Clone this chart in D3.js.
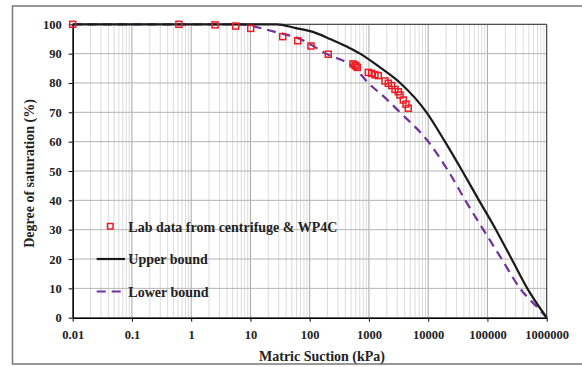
<!DOCTYPE html>
<html><head><meta charset="utf-8">
<script src="https://cdn.jsdelivr.net/npm/d3@7"></script>
<style>body{margin:0;background:#fff}svg{display:block}text{font-family:"Liberation Serif","Times New Roman",serif;font-weight:bold;fill:#222}</style>
</head><body>
<script>
// Lab data (suction kPa, degree of saturation %)
const labSuction = [0.01,0.62,2.52,5.64,10.1,35,62.7,105,206,538,582,604,636,975,1112,1264,1438,1866,2122,2422,2754,3128,3342,3800,4217,4613];
const labSat     = [100,100,99.8,99.4,98.6,95.8,94.4,92.6,89.8,86.5,86.1,85.8,85.3,83.6,83.3,82.8,82.5,80.7,79.9,79.1,77.8,77.0,75.9,74.2,72.8,71.4];
// Upper bound curve
const upperSuction = [0.01,28,56,110,221,420,710,1535,3370,9370,19200,37600,72000,139000,256000,470000,1000000];
const upperSat     = [100,100,98.8,97.5,95,92.4,90,85.3,80,70,60,50,40,30,20,10,0];
// Lower bound curve
const lowerSuction = [0.01,7,13,25,69,188,582,975,1866,3340,10040,21800,42300,85100,174000,354000,770000,1000000];
const lowerSat     = [100,100,99,97.5,95,90,85,80,75,70,60,50,40,30,20,10,2.6,0];
// Axes ticks
const xTicks = [0.01,0.1,1,10,100,1000,10000,100000,1000000];
const xTickLabels = ["0.01","0.1","1","10","100","1000","10000","100000","1000000"];
const yTicks = [0,10,20,30,40,50,60,70,80,90,100];
const legendLabels = ["Lab data from centrifuge & WP4C","Upper bound","Lower bound"];

const W=582,H=367;
const svg=d3.select("body").append("svg").attr("width",W).attr("height",H);
// outer frame
svg.append("rect").attr("x",12.5).attr("y",6).attr("width",W).attr("height",358)
  .attr("fill","#fff").attr("stroke","#777").attr("stroke-width",1.5);

const x=d3.scaleLog().domain([0.01,1e6]).range([72.7,546.7]);
const y=d3.scaleLinear().domain([0,100]).range([317.7,24.3]);
const g=svg.append("g");

// minor vertical grid
const minor=[];
for(let e=-2;e<6;e++){for(let k=2;k<=9;k++){minor.push(k*Math.pow(10,e));}}
g.selectAll(".mn").data(minor).enter().append("line")
  .attr("x1",d=>x(d)).attr("x2",d=>x(d)).attr("y1",y(0)).attr("y2",y(100))
  .attr("stroke","#dcdcdc").attr("stroke-width",1);
// major vertical grid
g.selectAll(".mj").data(xTicks).enter().append("line")
  .attr("x1",d=>x(d)).attr("x2",d=>x(d)).attr("y1",y(0)).attr("y2",y(100))
  .attr("stroke","#a8a8a8").attr("stroke-width",1);
// horizontal grid
g.selectAll(".hg").data(yTicks).enter().append("line")
  .attr("x1",x(0.01)).attr("x2",x(1e6)).attr("y1",d=>y(d)).attr("y2",d=>y(d))
  .attr("stroke","#b4b4b4").attr("stroke-width",1);
// plot border top/right
g.append("line").attr("x1",x(0.01)).attr("x2",x(1e6)).attr("y1",y(100)).attr("y2",y(100)).attr("stroke","#333").attr("stroke-width",1);
g.append("line").attr("x1",x(1e6)).attr("x2",x(1e6)).attr("y1",y(100)).attr("y2",y(0)).attr("stroke","#333").attr("stroke-width",1);

// axes
const xAxis=d3.axisBottom(x).tickValues(xTicks).tickFormat((d,i)=>xTickLabels[i]).tickSize(4).tickSizeOuter(0);
const ax=svg.append("g").attr("transform",`translate(0,${y(0)})`).call(xAxis);
ax.select(".domain").attr("stroke","#000").attr("stroke-width",1.5);
ax.selectAll(".tick line").attr("stroke","#000");
ax.selectAll("text").attr("font-size","12.5px").attr("dy","0").attr("y",21).style("font-family","Liberation Serif").style("font-weight","bold").attr("fill","#222");
const yAxis=d3.axisLeft(y).tickValues(yTicks).tickSize(4).tickSizeOuter(0);
const ay=svg.append("g").attr("transform",`translate(${x(0.01)},0)`).call(yAxis);
ay.select(".domain").attr("stroke","#000").attr("stroke-width",1.5);
ay.selectAll(".tick line").attr("stroke","#000");
ay.selectAll("text").attr("font-size","12.5px").attr("x",-11).style("font-family","Liberation Serif").style("font-weight","bold").attr("fill","#222");

// curves
const line=d3.line().x(d=>x(d[0])).y(d=>y(d[1])).curve(d3.curveMonotoneX);
const upper=upperSuction.map((s,i)=>[s,upperSat[i]]);
const lower=lowerSuction.map((s,i)=>[s,lowerSat[i]]);
svg.append("path").attr("d",line(lower)).attr("fill","none").attr("stroke","#7030a0").attr("stroke-width",2.2).attr("stroke-dasharray","9,6");
svg.append("path").attr("d",line(upper)).attr("fill","none").attr("stroke","#1a1a1a").attr("stroke-width",2.2);

// lab points
const lab=labSuction.map((s,i)=>[s,labSat[i]]);
svg.selectAll(".pt").data(lab).enter().append("rect")
  .attr("x",d=>x(d[0])-3).attr("y",d=>y(d[1])-3).attr("width",6).attr("height",6)
  .attr("fill","none").attr("stroke","#ed1c24").attr("stroke-width",1.5);

// legend
const lg=svg.append("g");
lg.append("rect").attr("x",107.5).attr("y",223.5).attr("width",5.5).attr("height",5.5).attr("fill","none").attr("stroke","#ed1c24").attr("stroke-width",1.5);
lg.append("line").attr("x1",96.7).attr("x2",125).attr("y1",259).attr("y2",259).attr("stroke","#1a1a1a").attr("stroke-width",2.2);
lg.append("line").attr("x1",96.7).attr("x2",125).attr("y1",291.5).attr("y2",291.5).attr("stroke","#7030a0").attr("stroke-width",2.2).attr("stroke-dasharray","9,6");
[231.5,264,296.5].forEach((yy,i)=>{
  lg.append("text").attr("x",128.3).attr("y",yy).attr("font-size","14px").text(legendLabels[i]);
});

// axis titles
svg.append("text").attr("x",322).attr("y",360.5).attr("text-anchor","middle").attr("font-size","14px").text("Matric Suction (kPa)");
svg.append("text").attr("transform","translate(33.5,173.5) rotate(-90)").attr("text-anchor","middle").attr("font-size","14px").text("Degree of saturation (%)");
</script>
</body></html>
